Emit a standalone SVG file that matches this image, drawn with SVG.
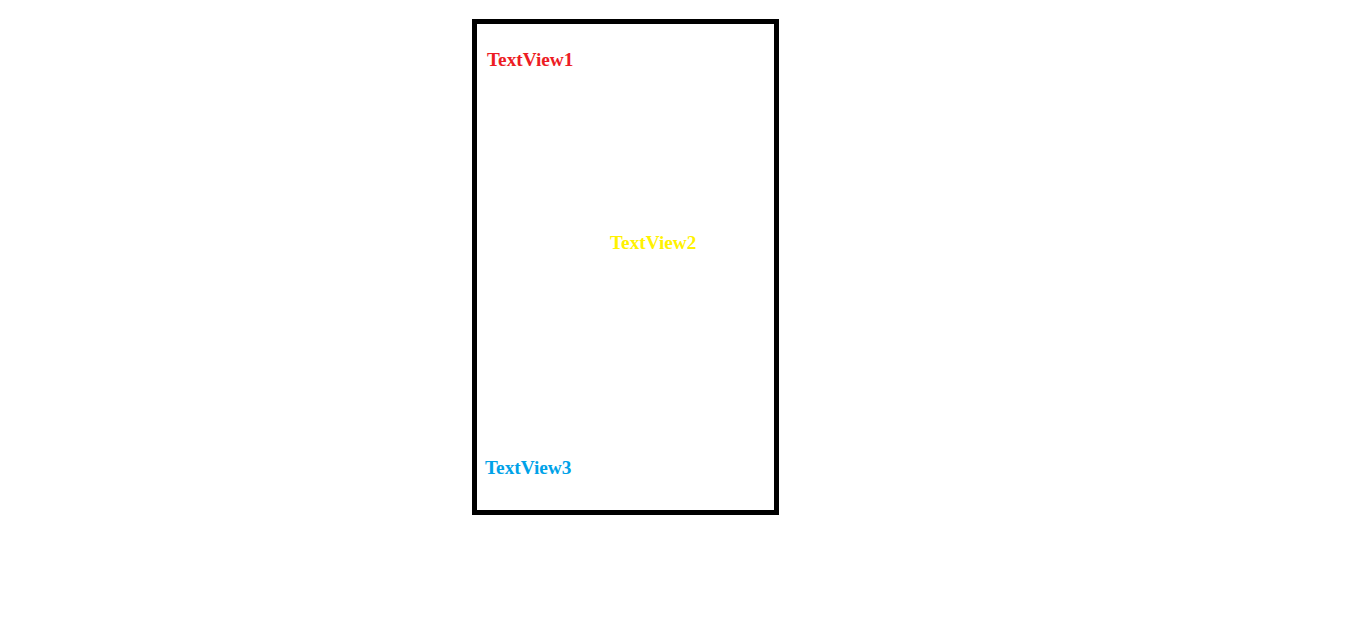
<svg xmlns="http://www.w3.org/2000/svg" width="1360" height="624" viewBox="0 0 1360 624">
<style>
.t{font-family:"Liberation Serif","Times New Roman",serif;font-weight:bold;font-size:19.3px}
</style>
<rect width="1360" height="624" fill="#fff"/>
<g id="screen"><rect x="474.5" y="21.5" width="302" height="491" fill="none" stroke="#000" stroke-width="5"/></g>
<g id="tv1"><text class="t" x="487" y="66" fill="#ED1C24">TextView1</text></g>
<g id="tv2"><text class="t" x="610" y="249" fill="#FFF200">TextView2</text></g>
<g id="tv3"><text class="t" x="485" y="474" fill="#00A2E8">TextView3</text></g>
<g id="connectors"></g>
</svg>
